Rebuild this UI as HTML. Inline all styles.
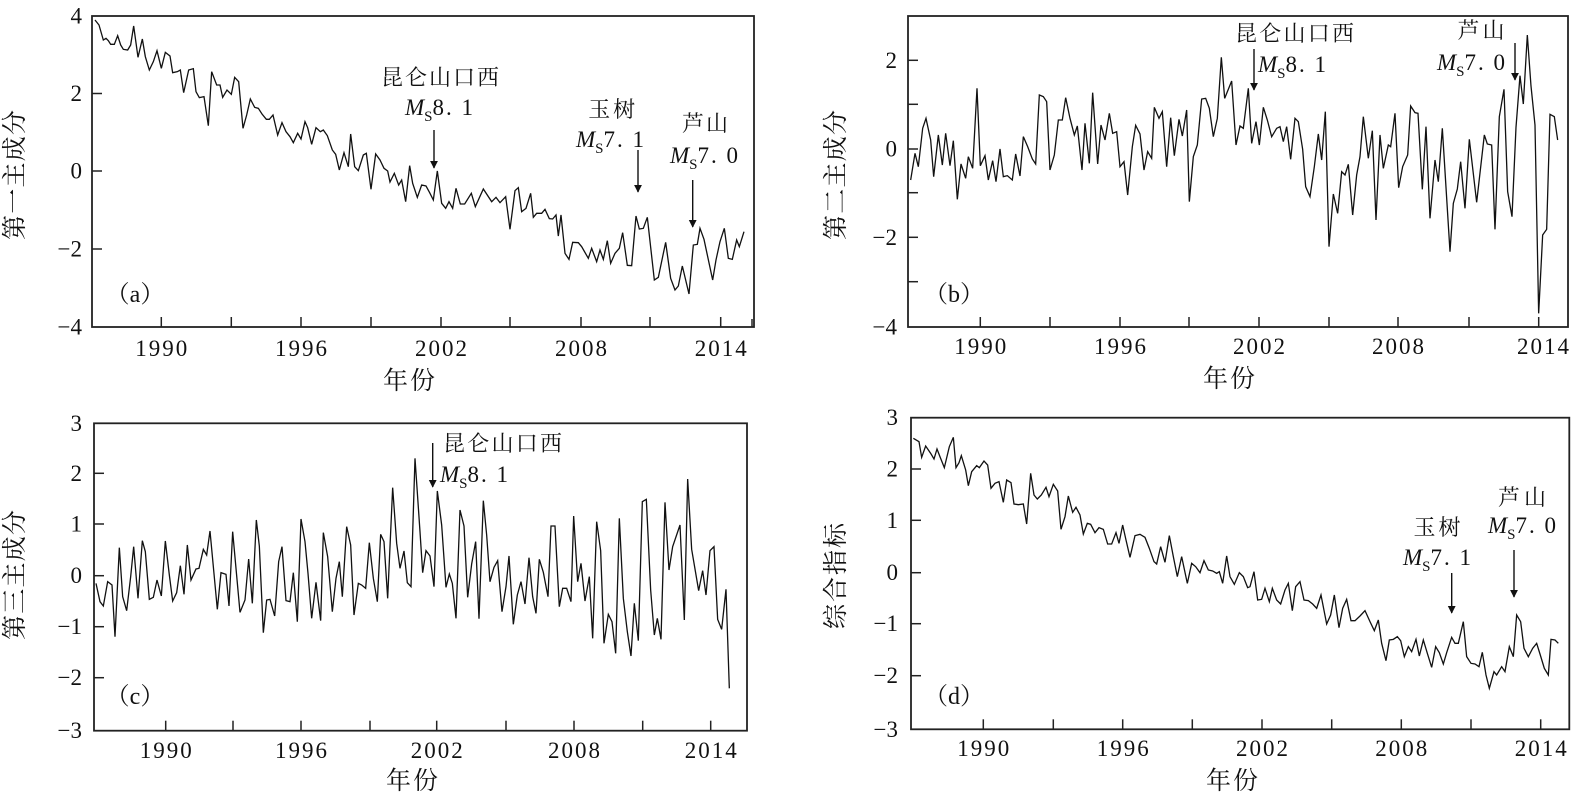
<!DOCTYPE html>
<html><head><meta charset="utf-8"><style>
html,body{margin:0;padding:0;background:#fff;}
svg{display:block;}
.num{font-family:"Liberation Serif",serif;font-size:23px;fill:#111;}
.cjk{font-family:"Liberation Serif","Noto Serif CJK SC",serif;fill:#111;}
.ser{fill:none;stroke:#111;stroke-width:1.3;stroke-linejoin:miter;}
.ax{fill:none;stroke:#222;stroke-width:1.8;}
.tk{stroke:#222;stroke-width:1.5;}
.ar{stroke:#111;stroke-width:1.4;}
</style></head><body>
<svg width="1574" height="795" viewBox="0 0 1574 795" xmlns="http://www.w3.org/2000/svg">
<defs>
<marker id="ah" viewBox="0 0 10 10" refX="9" refY="5" markerWidth="8" markerHeight="8" markerUnits="userSpaceOnUse" orient="auto"><path d="M0,0 L10,5 L0,10 z" fill="#111"/></marker>
</defs>

<!-- ========== Panel (a) ========== -->
<rect class="ax" x="92" y="16" width="662" height="311"/>
<g class="tk">
<line x1="161.3" y1="327" x2="161.3" y2="317"/><line x1="231.3" y1="327" x2="231.3" y2="317"/><line x1="301" y1="327" x2="301" y2="317"/><line x1="371" y1="327" x2="371" y2="317"/><line x1="441" y1="327" x2="441" y2="317"/><line x1="510" y1="327" x2="510" y2="317"/><line x1="581" y1="327" x2="581" y2="317"/><line x1="650" y1="327" x2="650" y2="317"/><line x1="720.7" y1="327" x2="720.7" y2="317"/><line x1="752" y1="327" x2="752" y2="319"/>
<line x1="92" y1="93.5" x2="102" y2="93.5"/><line x1="92" y1="171" x2="102" y2="171"/><line x1="92" y1="249" x2="102" y2="249"/>
</g>
<g class="num" text-anchor="end">
<text x="82" y="23.5">4</text><text x="82" y="101">2</text><text x="82" y="178.5">0</text><text x="82" y="256.5">−2</text><text x="82" y="334.5">−4</text>
</g>
<g class="num" text-anchor="middle">
<text x="161.3" y="356" textLength="52">1990</text><text x="301" y="356" textLength="52">1996</text><text x="441" y="356" textLength="52">2002</text><text x="581" y="356" textLength="52">2008</text><text x="720.7" y="356" textLength="52">2014</text>
</g>
<text class="cjk" x="409" y="389" font-size="25" text-anchor="middle" textLength="52">年份</text>
<text class="cjk" transform="translate(23,175) rotate(-90)" font-size="25" text-anchor="middle" textLength="130">第一主成分</text>
<text class="cjk" x="135" y="302" font-size="24" text-anchor="middle">（a）</text>
<polyline class="ser" vector-effect="non-scaling-stroke" transform="scale(0.33333)" points="285,60 297,75 310,120 318,115 325,122 332,133 343,133 353,107 362,135 370,148 383,150 392,135 401,78 414,172 427,117 436,170 448,210 460,185 471,152 484,205 496,157 510,168 518,218 532,215 541,210 551,278 566,210 580,206 588,275 598,293 612,290 625,377 635,215 650,255 660,255 668,292 681,270 694,283 704,232 716,245 729,385 740,345 751,297 764,322 775,325 786,342 799,358 808,358 819,345 833,405 846,368 858,395 870,410 880,428 893,400 903,417 915,365 923,383 935,433 948,383 961,395 970,390 982,407 997,450 1007,463 1018,510 1032,458 1045,500 1052,402 1064,500 1075,512 1090,465 1099,460 1113,568 1127,462 1140,480 1152,505 1163,513 1170,546 1183,520 1196,555 1205,540 1217,605 1229,497 1238,550 1252,592 1265,555 1278,558 1289,578 1300,600 1312,513 1325,610 1337,625 1347,605 1358,625 1368,565 1381,612 1394,612 1414,580 1426,620 1450,567 1475,605 1488,592 1500,608 1517,590 1530,688 1545,572 1555,563 1565,635 1578,625 1592,580 1600,652 1610,640 1625,640 1635,628 1648,656 1658,657 1668,645 1675,708 1683,645 1695,760 1707,778 1718,727 1735,728 1745,740 1765,775 1775,745 1790,785 1800,750 1810,778 1822,722 1832,790 1845,760 1858,745 1868,698 1882,796 1895,797 1908,648 1918,687 1930,685 1942,652 1963,840 1975,832 1997,727 2012,835 2025,870 2035,858 2047,798 2067,882 2080,735 2092,733 2100,685 2112,718 2138,840 2148,780 2160,725 2173,685 2185,775 2197,778 2210,720 2218,740 2232,695"/>
<!-- annotations (a) -->
<text class="cjk" x="381" y="85" font-size="22" textLength="118">昆仑山口西</text>
<text class="num" x="405" y="115" font-size="22"><tspan font-style="italic">M</tspan><tspan font-size="15" dy="6">S</tspan><tspan dy="-6" letter-spacing="2">8. 1</tspan></text>
<line class="ar" x1="434" y1="130" x2="434" y2="168" marker-end="url(#ah)"/>
<text class="cjk" x="611.7" y="117" font-size="22" text-anchor="middle" textLength="47">玉树</text>
<text class="num" x="576" y="147" font-size="22"><tspan font-style="italic">M</tspan><tspan font-size="15" dy="6">S</tspan><tspan dy="-6" letter-spacing="2">7. 1</tspan></text>
<line class="ar" x1="638" y1="150" x2="638" y2="192" marker-end="url(#ah)"/>
<text class="cjk" x="705" y="131" font-size="22" text-anchor="middle" textLength="46">芦山</text>
<text class="num" x="670" y="163" font-size="22"><tspan font-style="italic">M</tspan><tspan font-size="15" dy="6">S</tspan><tspan dy="-6" letter-spacing="2">7. 0</tspan></text>
<line class="ar" x1="692.7" y1="180" x2="692.7" y2="227" marker-end="url(#ah)"/>

<!-- ========== Panel (b) ========== -->
<rect class="ax" x="908" y="16" width="660" height="311"/>
<g class="tk">
<line x1="980.3" y1="327" x2="980.3" y2="317"/><line x1="1050" y1="327" x2="1050" y2="317"/><line x1="1120" y1="327" x2="1120" y2="317"/><line x1="1189" y1="327" x2="1189" y2="317"/><line x1="1259" y1="327" x2="1259" y2="317"/><line x1="1329" y1="327" x2="1329" y2="317"/><line x1="1398" y1="327" x2="1398" y2="317"/><line x1="1469" y1="327" x2="1469" y2="317"/><line x1="1538.7" y1="327" x2="1538.7" y2="317"/>
<line x1="908" y1="60.3" x2="918" y2="60.3"/><line x1="908" y1="104.3" x2="918" y2="104.3"/><line x1="908" y1="149" x2="918" y2="149"/><line x1="908" y1="192.7" x2="918" y2="192.7"/><line x1="908" y1="237.3" x2="918" y2="237.3"/><line x1="908" y1="281.7" x2="918" y2="281.7"/>
</g>
<g class="num" text-anchor="end">
<text x="897" y="67.8">2</text><text x="897" y="156.5">0</text><text x="897" y="244.8">−2</text><text x="897" y="334.5">−4</text>
</g>
<g class="num" text-anchor="middle">
<text x="980.3" y="354" textLength="52">1990</text><text x="1120" y="354" textLength="52">1996</text><text x="1259" y="354" textLength="52">2002</text><text x="1398" y="354" textLength="52">2008</text><text x="1543" y="354" textLength="52">2014</text>
</g>
<text class="cjk" x="1229" y="387" font-size="25" text-anchor="middle" textLength="52">年份</text>
<text class="cjk" transform="translate(844,175) rotate(-90)" font-size="25" text-anchor="middle" textLength="130">第二主成分</text>
<text class="cjk" x="954" y="302" font-size="24" text-anchor="middle">（b）</text>
<polyline class="ser" vector-effect="non-scaling-stroke" transform="translate(800,0) scale(0.33333)" points="332,540 345,460 355,500 368,385 378,355 392,420 401,530 415,405 427,495 437,400 450,497 460,422 472,598 483,492 497,535 505,470 518,505 531,265 541,497 555,467 565,540 578,482 588,545 600,447 610,530 622,527 637,540 647,462 660,528 670,410 683,440 697,477 707,492 718,285 730,290 740,305 750,510 763,465 775,360 787,360 797,293 810,355 823,405 832,378 846,510 855,370 868,490 878,278 893,492 903,375 915,420 928,340 938,400 950,395 960,500 972,485 983,585 997,440 1007,376 1020,402 1032,510 1043,455 1055,475 1063,322 1077,355 1087,335 1100,500 1112,353 1123,467 1137,358 1147,408 1160,330 1168,605 1180,470 1192,435 1205,297 1217,295 1228,325 1240,410 1252,355 1264,172 1274,295 1295,243 1308,435 1320,378 1330,385 1345,265 1355,430 1368,365 1378,435 1390,322 1402,360 1415,410 1430,385 1440,380 1450,425 1460,380 1472,478 1485,355 1495,365 1508,448 1517,560 1530,590 1543,500 1555,402 1565,480 1576,335 1587,740 1600,582 1613,640 1625,515 1635,525 1645,493 1658,645 1670,525 1680,470 1690,350 1705,475 1717,392 1728,660 1740,405 1750,505 1765,435 1772,440 1785,340 1796,563 1808,500 1823,465 1832,318 1845,338 1854,340 1867,568 1878,380 1890,655 1905,480 1915,545 1927,385 1950,755 1960,610 1972,567 1982,485 1995,625 2008,418 2030,607 2053,405 2062,432 2075,435 2085,688 2098,350 2112,268 2123,575 2136,650 2148,382 2160,227 2170,312 2182,105 2193,258 2205,375 2216,940 2228,705 2240,688 2250,343 2263,350 2273,420"/>
<text class="cjk" x="1235" y="41" font-size="22" textLength="119">昆仑山口西</text>
<text class="num" x="1258" y="72" font-size="22"><tspan font-style="italic">M</tspan><tspan font-size="15" dy="6">S</tspan><tspan dy="-6" letter-spacing="2">8. 1</tspan></text>
<line class="ar" x1="1254" y1="49" x2="1254" y2="90" marker-end="url(#ah)"/>
<text class="cjk" x="1481" y="38" font-size="22" text-anchor="middle" textLength="47">芦山</text>
<text class="num" x="1437" y="70" font-size="22"><tspan font-style="italic">M</tspan><tspan font-size="15" dy="6">S</tspan><tspan dy="-6" letter-spacing="2">7. 0</tspan></text>
<line class="ar" x1="1515" y1="43" x2="1515" y2="80" marker-end="url(#ah)"/>

<!-- ========== Panel (c) ========== -->
<rect class="ax" x="94" y="423.3" width="653" height="307.4"/>
<g class="tk">
<line x1="165.7" y1="730.7" x2="165.7" y2="720.7"/><line x1="233" y1="730.7" x2="233" y2="720.7"/><line x1="301" y1="730.7" x2="301" y2="720.7"/><line x1="370" y1="730.7" x2="370" y2="720.7"/><line x1="436.7" y1="730.7" x2="436.7" y2="720.7"/><line x1="506" y1="730.7" x2="506" y2="720.7"/><line x1="574" y1="730.7" x2="574" y2="720.7"/><line x1="642.7" y1="730.7" x2="642.7" y2="720.7"/><line x1="710.7" y1="730.7" x2="710.7" y2="720.7"/>
<line x1="94" y1="473.3" x2="104" y2="473.3"/><line x1="94" y1="524" x2="104" y2="524"/><line x1="94" y1="575.7" x2="104" y2="575.7"/><line x1="94" y1="626.7" x2="104" y2="626.7"/><line x1="94" y1="677.7" x2="104" y2="677.7"/>
</g>
<g class="num" text-anchor="end">
<text x="82" y="431">3</text><text x="82" y="481">2</text><text x="82" y="531.5">1</text><text x="82" y="583.2">0</text><text x="82" y="634.2">−1</text><text x="82" y="685.2">−2</text><text x="82" y="738.2">−3</text>
</g>
<g class="num" text-anchor="middle">
<text x="165.7" y="758" textLength="52">1990</text><text x="301" y="758" textLength="52">1996</text><text x="436.7" y="758" textLength="52">2002</text><text x="574" y="758" textLength="52">2008</text><text x="710.7" y="758" textLength="52">2014</text>
</g>
<text class="cjk" x="412" y="789" font-size="25" text-anchor="middle" textLength="52">年份</text>
<text class="cjk" transform="translate(23,575) rotate(-90)" font-size="25" text-anchor="middle" textLength="130">第三主成分</text>
<text class="cjk" x="135" y="704" font-size="24" text-anchor="middle">（c）</text>
<polyline class="ser" vector-effect="non-scaling-stroke" transform="translate(0,400) scale(0.33333)" points="288,550 300,605 310,618 323,545 336,555 345,710 358,443 368,590 380,632 392,530 401,440 414,595 427,422 436,455 448,598 460,592 471,540 484,588 496,423 508,525 518,603 530,578 541,497 552,583 562,435 573,540 588,507 597,505 610,448 620,465 630,393 652,628 663,518 678,523 687,618 698,395 720,637 735,600 746,477 757,610 769,360 778,438 790,698 800,600 810,598 824,648 836,485 846,440 858,602 870,605 880,518 892,665 903,357 915,425 924,520 935,655 948,547 962,662 970,398 983,470 997,635 1008,535 1018,485 1027,590 1040,380 1052,435 1062,645 1075,550 1085,555 1097,565 1108,428 1120,535 1132,605 1142,403 1152,425 1163,595 1178,263 1190,430 1200,505 1212,453 1222,548 1233,560 1245,175 1260,395 1268,518 1278,452 1290,468 1302,560 1312,273 1325,375 1338,562 1348,522 1357,550 1368,655 1380,330 1392,378 1403,592 1415,492 1427,425 1437,656 1450,302 1460,405 1470,545 1482,502 1493,482 1506,635 1518,560 1527,468 1540,673 1552,585 1563,545 1575,612 1587,473 1598,590 1608,640 1618,478 1630,517 1644,590 1653,378 1665,378 1678,620 1688,565 1700,565 1713,605 1721,348 1733,545 1743,490 1755,603 1768,530 1778,715 1790,365 1802,452 1812,730 1825,643 1836,665 1847,760 1858,355 1870,595 1882,695 1893,768 1903,610 1915,722 1927,305 1939,298 1952,570 1963,705 1972,655 1983,718 1995,307 2007,510 2018,440 2040,375 2053,660 2063,237 2075,448 2096,572 2108,512 2118,585 2130,452 2142,440 2153,658 2165,688 2178,568 2188,865"/>
<text class="cjk" x="443" y="451" font-size="22" textLength="119">昆仑山口西</text>
<text class="num" x="440" y="482" font-size="22"><tspan font-style="italic">M</tspan><tspan font-size="15" dy="6">S</tspan><tspan dy="-6" letter-spacing="2">8. 1</tspan></text>
<line class="ar" x1="432.7" y1="443" x2="432.7" y2="487" marker-end="url(#ah)"/>

<!-- ========== Panel (d) ========== -->
<rect class="ax" x="911" y="417.7" width="658.3" height="311.6"/>
<g class="tk">
<line x1="983.3" y1="729.3" x2="983.3" y2="719.3"/><line x1="1053.3" y1="729.3" x2="1053.3" y2="719.3"/><line x1="1122.7" y1="729.3" x2="1122.7" y2="719.3"/><line x1="1192.3" y1="729.3" x2="1192.3" y2="719.3"/><line x1="1262" y1="729.3" x2="1262" y2="719.3"/><line x1="1331.7" y1="729.3" x2="1331.7" y2="719.3"/><line x1="1401.3" y1="729.3" x2="1401.3" y2="719.3"/><line x1="1471" y1="729.3" x2="1471" y2="719.3"/><line x1="1540.7" y1="729.3" x2="1540.7" y2="719.3"/>
<line x1="911" y1="469" x2="921" y2="469"/><line x1="911" y1="520.3" x2="921" y2="520.3"/><line x1="911" y1="572.7" x2="921" y2="572.7"/><line x1="911" y1="623.7" x2="921" y2="623.7"/><line x1="911" y1="675.7" x2="921" y2="675.7"/>
</g>
<g class="num" text-anchor="end">
<text x="898" y="425.2">3</text><text x="898" y="476.5">2</text><text x="898" y="527.8">1</text><text x="898" y="580.2">0</text><text x="898" y="631.2">−1</text><text x="898" y="683.2">−2</text><text x="898" y="736.8">−3</text>
</g>
<g class="num" text-anchor="middle">
<text x="983.3" y="756" textLength="52">1990</text><text x="1122.7" y="756" textLength="52">1996</text><text x="1262" y="756" textLength="52">2002</text><text x="1401.3" y="756" textLength="52">2008</text><text x="1540.7" y="756" textLength="52">2014</text>
</g>
<text class="cjk" x="1232" y="789" font-size="25" text-anchor="middle" textLength="52">年份</text>
<text class="cjk" transform="translate(844,576) rotate(-90)" font-size="25" text-anchor="middle" textLength="106">综合指标</text>
<text class="cjk" x="954" y="704" font-size="24" text-anchor="middle">（d）</text>
<polyline class="ser" vector-effect="non-scaling-stroke" transform="translate(800,400) scale(0.33333)" points="340,115 352,122 357,125 365,172 377,138 392,160 402,177 411,147 421,173 433,203 448,140 460,112 468,203 477,188 484,167 497,210 505,257 515,215 530,197 538,203 552,183 563,195 573,265 585,250 597,245 610,307 620,240 633,248 642,312 655,314 670,312 680,372 692,220 702,285 712,297 724,285 738,262 747,290 760,253 773,273 783,388 795,350 805,288 818,337 828,322 840,345 850,402 862,370 872,373 885,398 897,383 910,388 923,432 935,432 948,398 957,430 968,375 978,420 990,472 1005,407 1020,403 1035,412 1048,445 1062,485 1070,492 1082,440 1095,487 1108,407 1120,470 1132,530 1145,470 1162,550 1175,490 1187,500 1200,518 1212,482 1225,510 1238,513 1250,520 1258,515 1268,550 1280,468 1290,530 1303,553 1318,518 1330,530 1343,563 1350,560 1362,515 1373,600 1385,598 1395,565 1408,605 1417,565 1430,600 1442,612 1455,570 1465,550 1477,632 1487,560 1500,545 1512,600 1525,602 1538,612 1550,625 1563,585 1580,672 1592,645 1603,585 1617,683 1628,625 1640,598 1653,662 1665,662 1680,648 1695,632 1710,665 1723,692 1735,660 1745,730 1758,782 1768,720 1780,718 1792,710 1802,722 1813,770 1825,740 1835,755 1848,718 1858,768 1870,720 1882,760 1895,802 1907,740 1918,758 1930,792 1940,758 1955,712 1965,730 1975,730 1990,665 2000,770 2013,790 2025,792 2037,800 2047,757 2058,825 2068,865 2082,815 2090,825 2105,800 2115,815 2128,740 2140,770 2150,645 2162,665 2172,745 2185,770 2198,745 2210,730 2220,762 2233,805 2245,825 2253,718 2265,720 2275,730"/>
<text class="cjk" x="1437" y="535" font-size="22" text-anchor="middle" textLength="47">玉树</text>
<text class="num" x="1403" y="565" font-size="22"><tspan font-style="italic">M</tspan><tspan font-size="15" dy="6">S</tspan><tspan dy="-6" letter-spacing="2">7. 1</tspan></text>
<line class="ar" x1="1451.7" y1="573" x2="1451.7" y2="613" marker-end="url(#ah)"/>
<text class="cjk" x="1522" y="505" font-size="22" text-anchor="middle" textLength="48">芦山</text>
<text class="num" x="1488" y="533" font-size="22"><tspan font-style="italic">M</tspan><tspan font-size="15" dy="6">S</tspan><tspan dy="-6" letter-spacing="2">7. 0</tspan></text>
<line class="ar" x1="1514" y1="550" x2="1514" y2="597" marker-end="url(#ah)"/>
</svg>
</body></html>
